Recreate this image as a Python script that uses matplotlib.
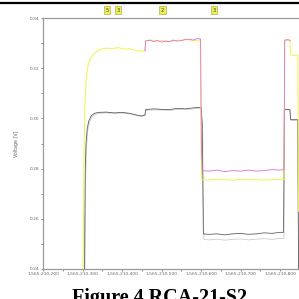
import numpy as np
import matplotlib.pyplot as plt
from matplotlib.lines import Line2D
from matplotlib.ticker import MultipleLocator, FuncFormatter

# time base (s) and values
t0 = 1565210000

yellow_t = [300, 302, 304, 306, 309, 314, 320, 330, 345, 360, 375, 390, 405, 420, 435, 450,
            458, 460, 475, 490, 505, 520, 535, 550, 565, 580, 598, 600, 602, 620, 640, 660,
            680, 700, 720, 740, 760, 780, 800, 810, 812, 825, 827, 845, 847]
yellow_v = [0.235, 0.25, 0.287, 0.305, 0.315, 0.321, 0.324, 0.326, 0.3275, 0.328, 0.3278,
            0.3282, 0.3276, 0.3278, 0.327, 0.3268, 0.327, 0.331, 0.3312, 0.3308, 0.331,
            0.3306, 0.331, 0.3312, 0.3314, 0.331, 0.3312, 0.29, 0.2756, 0.2754, 0.2758,
            0.2756, 0.2754, 0.2757, 0.2755, 0.2756, 0.2754, 0.2756, 0.2757, 0.2756, 0.331,
            0.3312, 0.3252, 0.3252, 0.263]

pink_t = [458, 460, 470, 480, 490, 500, 510, 520, 530, 540, 550, 560, 570, 580, 590, 599,
          601, 603, 620, 640, 660, 680, 700, 720, 740, 760, 780, 800, 810, 812, 820, 826]
pink_v = [0.3268, 0.3308, 0.3312, 0.3306, 0.331, 0.3304, 0.3308, 0.3306, 0.3312, 0.3308,
          0.331, 0.3314, 0.3316, 0.3312, 0.3318, 0.3316, 0.29, 0.2792, 0.279, 0.2794,
          0.2788, 0.2792, 0.279, 0.2794, 0.279, 0.2792, 0.2796, 0.2794, 0.2796, 0.3312,
          0.3314, 0.331]

black_t = [305, 306, 307, 309, 312, 316, 322, 330, 340, 360, 380, 400, 420, 440, 450, 458,
           460, 480, 500, 520, 540, 560, 580, 595, 600, 603, 606, 620, 640, 660, 680, 700,
           720, 740, 760, 780, 800, 809, 811, 825, 827, 845, 847]
black_v = [0.235, 0.26, 0.28, 0.29, 0.296, 0.299, 0.301, 0.302, 0.3024, 0.3025, 0.3022,
           0.3024, 0.302, 0.3012, 0.301, 0.3014, 0.3035, 0.3038, 0.3036, 0.3035, 0.304,
           0.3038, 0.3042, 0.3044, 0.3044, 0.298, 0.254, 0.2538, 0.254, 0.2536, 0.254,
           0.2542, 0.2538, 0.254, 0.2544, 0.2542, 0.2546, 0.2546, 0.3035, 0.3035, 0.2995,
           0.2995, 0.24]

gray_t = [306, 307, 308, 310, 313, 317, 323, 331, 341, 361, 381, 401, 421, 441, 451, 459,
          461, 481, 501, 521, 541, 561, 581, 596, 601, 604, 607, 620, 640, 660, 680, 700,
          720, 740, 760, 780, 800, 810, 812, 825, 827, 845, 847]
gray_v = [0.235, 0.255, 0.275, 0.288, 0.295, 0.298, 0.3005, 0.3015, 0.302, 0.3022, 0.302,
          0.3021, 0.3018, 0.301, 0.3008, 0.3012, 0.3032, 0.3034, 0.3033, 0.3032, 0.3036,
          0.3035, 0.3038, 0.304, 0.304, 0.296, 0.2518, 0.2516, 0.2519, 0.2515, 0.2518,
          0.252, 0.2516, 0.2519, 0.2521, 0.2518, 0.2522, 0.2522, 0.3035, 0.3035, 0.2992,
          0.2992, 0.24]

marker_t = [362, 390, 503, 633]
marker_txt = ['5', '3', '2', '3']

fig = plt.figure(figsize=(2.99, 2.99), dpi=100)
ax = fig.add_axes([43/299, 30/299, 262/299, 251/299])

ax.plot(t0 + np.array(gray_t), gray_v, color='#cccccc', lw=0.6)
ax.plot(t0 + np.array(black_t), black_v, color='#606060', lw=0.6)
ax.plot(t0 + np.array(yellow_t), yellow_v, color='#f2f250', lw=0.7)
ax.plot(t0 + np.array(pink_t), pink_v, color='#d870d8', lw=0.6)

ax.set_xlim(t0 + 200, t0 + 200 + 262/39.5*100)
ax.set_ylim(0.24, 0.34)
ax.xaxis.set_major_locator(MultipleLocator(100))
ax.xaxis.set_minor_locator(MultipleLocator(50))
ax.yaxis.set_major_locator(MultipleLocator(0.02))
ax.yaxis.set_minor_locator(MultipleLocator(0.01))
ax.xaxis.set_major_formatter(FuncFormatter(lambda v, p: f"{v:,.0f}"))
ax.yaxis.set_major_formatter(FuncFormatter(lambda v, p: f"{v:.2f}"))
ax.tick_params(which='both', length=1.5, width=0.6, color='#808080',
               labelsize=3.2, labelcolor='#666666', pad=1)
for s in ax.spines.values():
    s.set_color('#9a9a9a')
    s.set_linewidth(0.9)
ax.spines['right'].set_visible(False)
ax.set_ylabel('Voltage [V]', fontsize=3.4, color='#666666', labelpad=8)

# marker boxes above the plot
for mt, txt in zip(marker_t, marker_txt):
    ax.text(t0 + mt, 0.3431, txt, fontsize=3.8, ha='center', va='center', color='#444444',
            bbox=dict(boxstyle='square,pad=0.3', fc='#eeee55', ec='#a0a040', lw=0.4),
            clip_on=False)

# page rule at the top and caption at the bottom
fig.add_artist(Line2D([0, 1], [1 - 3/299, 1 - 3/299], color='black', lw=1.6))
fig.text(160/299, -4/299, 'Figure 4 RCA-21-S2', fontsize=14.5, fontweight='bold',
         family='Liberation Serif', ha='center', va='baseline')

fig.savefig('out.png', dpi=100)
